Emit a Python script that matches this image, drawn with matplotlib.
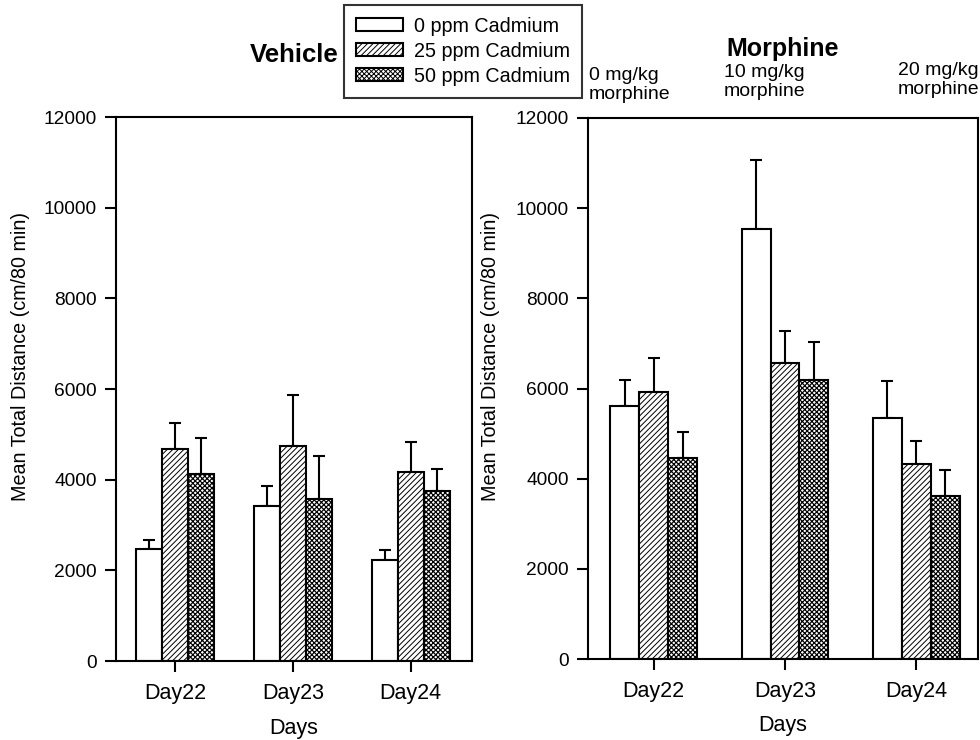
import matplotlib
matplotlib.use("Agg")
import matplotlib.pyplot as plt
import numpy as np
from matplotlib.patches import Patch

plt.rcParams['font.family'] = ['Liberation Sans', 'DejaVu Sans']
plt.rcParams['hatch.linewidth'] = 0.7

days = ["Day22", "Day23", "Day24"]
groups = ["0 ppm Cadmium", "25 ppm Cadmium", "50 ppm Cadmium"]
hatches = ["", "//////", "xxxxxxx"]
hatch_lw = [0.7, 0.7, 0.85]

veh_0 = [2475, 3420, 2230]
veh_25 = [4670, 4745, 4170]
veh_50 = [4130, 3580, 3740]
veh_0_sem = [205, 430, 220]
veh_25_sem = [590, 1130, 660]
veh_50_sem = [795, 940, 490]

mor_0 = [5620, 9540, 5340]
mor_25 = [5920, 6560, 4315]
mor_50 = [4455, 6185, 3610]
mor_0_sem = [570, 1530, 820]
mor_25_sem = [750, 720, 530]
mor_50_sem = [580, 845, 575]

yticks = [0, 2000, 4000, 6000, 8000, 10000, 12000]
dose_labels = ["0 mg/kg\nmorphine", "10 mg/kg\nmorphine", "20 mg/kg\nmorphine"]

fig = plt.figure(figsize=(9.8, 7.4), dpi=100)
axL = fig.add_axes([116/980, 1-661/740, 356/980, 544/740])
axR = fig.add_axes([588/980, 1-659/740, 390/980, 541/740])

w = 0.22
x = np.arange(len(days))

def set_hlw(patch, lw):
    try:
        patch.set_hatch_linewidth(lw)
    except Exception:
        pass

def draw(ax, means, sems, xlim, xlabpad, ylab_xy):
    for i, (m, s) in enumerate(zip(means, sems)):
        pos = x + (i - 1) * w
        bars = ax.bar(pos, m, width=w, facecolor="white", edgecolor="black",
                      linewidth=1.5, hatch=hatches[i], zorder=2)
        for b in bars:
            set_hlw(b, hatch_lw[i])
        ax.errorbar(pos, m, yerr=[np.zeros(len(s)), s], fmt="none",
                    ecolor="black", elinewidth=1.5, capsize=4.5, capthick=1.5, zorder=1)
    ax.set_xlim(*xlim)
    ax.set_ylim(0, 12000)
    ax.set_yticks(yticks)
    ax.set_xticks(x)
    ax.set_xticklabels(days)
    for sp in ax.spines.values():
        sp.set_linewidth(1.5)
    ax.tick_params(axis="both", direction="out", length=8, width=1.5, pad=6)
    ax.tick_params(axis="y", labelsize=13.8)
    ax.tick_params(axis="x", labelsize=15.5, pad=8)
    ax.set_xlabel("Days", fontsize=15.5, labelpad=xlabpad)
    ax.set_ylabel("Mean Total Distance (cm/80 min)", fontsize=14.2, va="center")
    ax.yaxis.set_label_coords(*ylab_xy)

draw(axL, [veh_0, veh_25, veh_50], [veh_0_sem, veh_25_sem, veh_50_sem], (-0.5, 2.52), 10,
     (-0.267, 0.56))
draw(axR, [mor_0, mor_25, mor_50], [mor_0_sem, mor_25_sem, mor_50_sem], (-0.5, 2.47), 9,
     (-0.249, 0.56))

fig.text(294/980, 1-55/740, "Vehicle", fontsize=18.5, fontweight="bold", ha="center", va="center")
fig.text(783/980, 1-49/740, "Morphine", fontsize=18, fontweight="bold", ha="center", va="center")

fig.text(589/980, 1-85/740, dose_labels[0], fontsize=14, ha="left", va="center", linespacing=1.2)
fig.text(724/980, 1-82/740, dose_labels[1], fontsize=14, ha="left", va="center", linespacing=1.2)
fig.text(979/980, 1-80/740, dose_labels[2], fontsize=14, ha="right", va="center", linespacing=1.2,
         multialignment="right")

handles = [Patch(facecolor="white", edgecolor="black", linewidth=1.5, hatch=h) for h in hatches]
for h, lw in zip(handles, hatch_lw):
    set_hlw(h, lw)
leg = fig.legend(handles, groups, loc="upper left", bbox_to_anchor=(344/980, 1-5/740),
                 fontsize=14.2, frameon=True, fancybox=False, edgecolor="black",
                 handlelength=2.4, handleheight=0.65, labelspacing=0.3,
                 borderpad=0.6, handletextpad=0.55, borderaxespad=0)
leg.get_frame().set_linewidth(1.5)

fig.savefig("out.png", dpi=100)
